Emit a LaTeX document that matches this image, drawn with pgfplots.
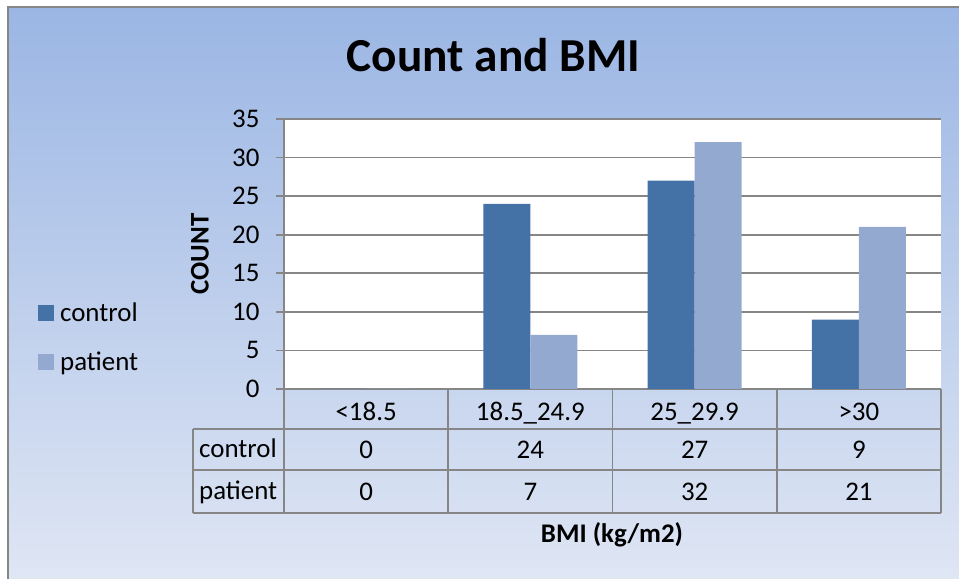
\documentclass[border=0pt]{standalone}
\usepackage{pgfplots}
\pgfplotsset{compat=1.18}
\usepackage{pgfplotstable}
\usepackage{fontspec}
\setmainfont{Carlito}
\definecolor{ctrl}{RGB}{68,114,166}
\definecolor{pat}{RGB}{148,169,208}
\definecolor{gridc}{RGB}{134,134,134}
\definecolor{bgtop}{RGB}{155,182,228}
\definecolor{bgbot}{RGB}{223,230,244}
\newcommand\bodyfont{\fontsize{27}{32}\selectfont}
\pgfplotstableread{
x control patient
0 0 0
1 24 7
2 27 32
3 9 21
}\bmidata
\begin{document}
\begin{tikzpicture}[x=1bp,y=1bp]
\useasboundingbox (0,0) rectangle (959,579);
\fill[white] (0,0) rectangle (959,579);
\shade[top color=bgtop, bottom color=bgbot] (8,0) rectangle (959,572);
\draw[gridc, line width=1.5bp] (8,0) -- (8,572) -- (959,572);
\node[font=\fontsize{47.5}{56}\bfseries\selectfont, anchor=base] at (493.5,507) {Count and BMI};
\node[font=\fontsize{27}{32}\bfseries\selectfont, rotate=90, anchor=center] at (200,325) {COUNT};
\node[font=\fontsize{27}{32}\bfseries\selectfont, anchor=base] at (612,36) {BMI (kg/m2)};
\begin{axis}[
  at={(284bp,190bp)}, anchor=south west, scale only axis,
  width=657bp, height=270bp,
  xmin=-0.5, xmax=3.5, ymin=0, ymax=35,
  clip=false,
  axis x line*=bottom, axis y line*=left,
  axis line style={gridc, line width=1.7bp, -},
  axis background/.style={fill=white},
  ytick={0,5,...,35},
  ymajorgrids,
  major grid style={gridc, line width=1.7bp},
  tick align=outside,
  ytick style={gridc, line width=1.7bp},
  major tick length=8bp,
  xtick={0,1,2,3},
  xticklabels={<18.5, 18.5\_24.9, 25\_29.9, >30},
  xtick style={draw=none},
  /pgf/number format/assume math mode=true,
  tick label style={font=\bodyfont},
  y tick label style={xshift=-13bp},
  x tick label style={anchor=base, yshift=-24bp},
  legend style={at={(-0.3745,0.1905)}, anchor=west, draw=none, fill=none,
    font=\bodyfont, row sep=22bp, inner sep=0pt, column sep=3bp,
    nodes={inner sep=3.5bp}},
  legend cell align=left,
]
\addplot[ybar, bar width=47bp, bar shift=-23.5bp, fill=ctrl, draw=none,
  legend image code/.code={\fill[ctrl] (0bp,-7.5bp) rectangle (15.5bp,8bp);}]
  table[x=x, y=control] {\bmidata};
\addlegendentry{control}
\addplot[ybar, bar width=47bp, bar shift=23.5bp, fill=pat, draw=none,
  legend image code/.code={\fill[pat] (0bp,-7.5bp) rectangle (15.5bp,8bp);}]
  table[x=x, y=patient] {\bmidata};
\addlegendentry{patient}
\addplot[draw=none, mark=none, forget plot, point meta=explicit, nodes near coords,
  every node near coord/.append style={anchor=base, font=\bodyfont, inner sep=0pt, text=black}]
  table[x=x, y expr=-9.0, meta=control] {\bmidata};
\addplot[draw=none, mark=none, forget plot, point meta=explicit, nodes near coords,
  every node near coord/.append style={anchor=base, font=\bodyfont, inner sep=0pt, text=black}]
  table[x=x, y expr=-14.45, meta=patient] {\bmidata};
\end{axis}
\draw[gridc, line width=1.7bp]
  (193,150) -- (941,150)
  (193,109) -- (941,109)
  (193,66) -- (941,66)
  (193,66) -- (193,150)
  (284,66) -- (284,190)
  (448.25,66) -- (448.25,190)
  (612.5,66) -- (612.5,190)
  (776.75,66) -- (776.75,190)
  (941,66) -- (941,190);
\node[font=\bodyfont, anchor=base west, inner sep=0pt] at (199,121) {control};
\node[font=\bodyfont, anchor=base west, inner sep=0pt] at (199,79) {patient};
\end{tikzpicture}
\end{document}
